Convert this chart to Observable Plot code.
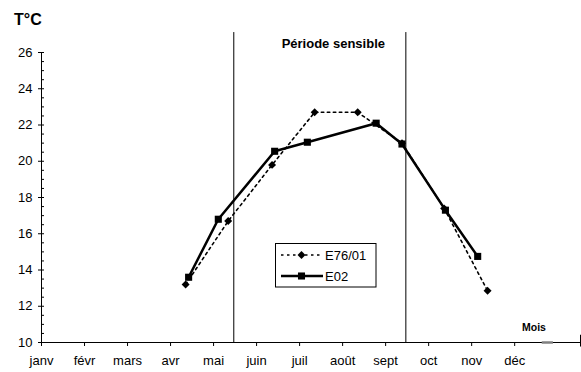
<!DOCTYPE html>
<html><head><meta charset="utf-8">
<script src="https://cdn.jsdelivr.net/npm/d3@7"></script>
<script src="https://cdn.jsdelivr.net/npm/@observablehq/plot@0.6"></script>
<style>body{margin:0;background:#fff}</style>
</head><body><div id="chart"></div>
<script>
// ---- data ----
const monthLabels = ["janv", "févr", "mars", "avr", "mai", "juin", "juil", "août", "sept", "oct", "nov", "déc"];
const monthTicks = [1, 2, 3, 4, 5, 6, 7, 8, 9, 10, 11, 12];
const yMajorTicks = [10, 12, 14, 16, 18, 20, 22, 24, 26];
const yMinorTicks = d3.range(10, 26.01, 0.5);
const seriesNames = ["E76/01", "E02"];
const e76Month = [4.35, 5.34, 6.36, 7.35, 8.35, 9.38, 10.36, 11.37];
const e76Temp  = [13.2, 16.7, 19.8, 22.7, 22.7, 21.0, 17.4, 12.85];
const e02Month = [4.42, 5.11, 6.42, 7.18, 8.78, 9.38, 10.39, 11.14];
const e02Temp  = [13.6, 16.8, 20.55, 21.05, 22.1, 20.95, 17.3, 14.75];
const periodBounds = [5.47, 9.47];
const periodLabel = "Période sensible";
const yTitle = "T°C";
const xTitle = "Mois";
const xDomain = [1, 13.53];

const e76 = e76Month.map((m, i) => ({month: m, temp: e76Temp[i]}));
const e02 = e02Month.map((m, i) => ({month: m, temp: e02Temp[i]}));

const chart = Plot.plot({
  width: 581, height: 372,
  marginLeft: 41, marginRight: 1, marginTop: 52, marginBottom: 30,
  style: {fontFamily: "'Liberation Sans', Arial, sans-serif", fontSize: "13px", color: "#000", background: "#fff"},
  x: {domain: xDomain},
  y: {domain: [10, 26]},
  marks: [
    Plot.ruleY([10], {stroke: "#000"}),
    Plot.ruleY([10], {x1: 12.64, x2: 12.9, stroke: "#808080", strokeWidth: 2.5}),
    Plot.ruleX([xDomain[1]], {y1: 9.75, y2: 10.4, stroke: "#000"}),
    Plot.ruleX([1], {stroke: "#000"}),
    Plot.axisX({ticks: monthTicks, tickSize: 4, tickPadding: 9, tickFormat: m => monthLabels[m - 1], label: null}),
    Plot.axisY({ticks: yMajorTicks, tickSize: 3, tickPadding: 6, label: null}),
    Plot.axisY({ticks: yMinorTicks, tickSize: 3, dx: 3, tickFormat: () => "", label: null}),
    Plot.ruleX(periodBounds, {y1: 10, y2: 27.1, stroke: "#000", strokeWidth: 1}),
    Plot.text([periodLabel], {x: (periodBounds[0] + periodBounds[1]) / 2, y: 26.48, dx: 13.5, text: d => d, fontWeight: "bold", fontSize: 13}),
    Plot.line(e76, {x: "month", y: "temp", stroke: "#000", strokeWidth: 1.6, strokeDasharray: "2.5,3.5"}),
    Plot.line(e02, {x: "month", y: "temp", stroke: "#000", strokeWidth: 2.5}),
    Plot.dot(e76, {x: "month", y: "temp", symbol: "diamond2", r: 3.6, fill: "#000", stroke: "none"}),
    Plot.dot(e02, {x: "month", y: "temp", symbol: "square", r: 4, fill: "#000", stroke: "none"})
  ]
});

const svg = d3.select(chart);
svg.append("text").attr("x", 14).attr("y", 25).attr("text-anchor", "start").attr("font-weight", "bold").attr("font-size", 16).text(yTitle);
svg.append("text").attr("x", 534).attr("y", 330.5).attr("text-anchor", "middle").attr("font-weight", "bold").attr("font-size", 10.5).text(xTitle);

// legend
const lg = svg.append("g").attr("text-anchor", "start");
lg.append("rect").attr("x", 275.5).attr("y", 243.5).attr("width", 100.5).attr("height", 43.5)
  .attr("fill", "#fff").attr("stroke", "#000").attr("stroke-width", 1);
const rows = [
  {name: seriesNames[0], y: 255, dash: "2.5,3.5", w: 1.6, sym: d3.symbolDiamond2, size: 40},
  {name: seriesNames[1], y: 276, dash: null, w: 2.5, sym: d3.symbolSquare, size: 50}
];
rows.forEach(r => {
  lg.append("line").attr("x1", 281).attr("x2", 323).attr("y1", r.y).attr("y2", r.y)
    .attr("stroke", "#000").attr("stroke-width", r.w).attr("stroke-dasharray", r.dash);
  lg.append("path").attr("d", d3.symbol(r.sym, r.size)()).attr("transform", `translate(301.5,${r.y})`).attr("fill", "#000");
  lg.append("text").attr("x", 325).attr("y", r.y).attr("dy", "0.35em").attr("font-size", 13).text(r.name);
});

document.getElementById("chart").appendChild(chart);
</script>
</body></html>
